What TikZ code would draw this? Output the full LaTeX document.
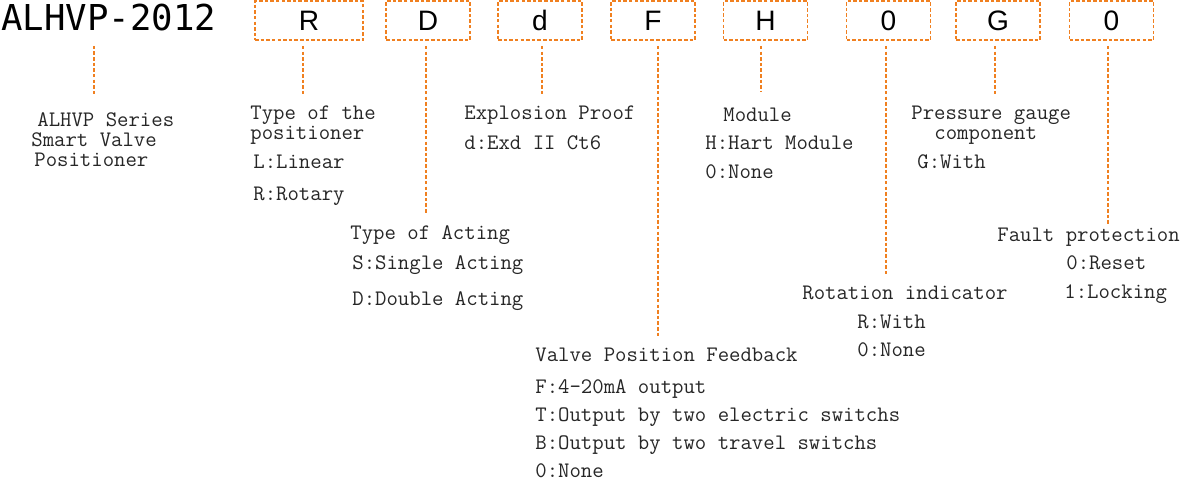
\documentclass[tikz,border=0pt]{standalone}
\usepackage{fontspec}
\usepackage{xcolor}
\usepackage{tikz}
\usetikzlibrary{calc,positioning}
\newfontfamily\labelfont{Latin Modern Mono}
\newfontfamily\codefont{DejaVu Sans Mono}
\newfontfamily\boxfont{Liberation Sans}
\definecolor{codeorange}{RGB}{240,128,32}

\begin{document}
\begin{tikzpicture}[x=0.02cm,y=-0.02cm]
    \tikzset{
        bx/.style={draw=codeorange, line width=1.1pt, dash pattern=on 2pt off 1.2pt, minimum width=1.68cm, minimum height=0.78cm, inner sep=0pt, font=\boxfont\fontsize{16}{16}\selectfont},
        stem/.style={codeorange, line width=1.1pt, dash pattern=on 2pt off 1.2pt},
        txt/.style={anchor=base west, inner sep=0pt, text=black!85, font=\labelfont\fontsize{12.6}{14}\selectfont},
    }
    \useasboundingbox (0,0) rectangle (1181,481);

    % model number and code boxes
    \node[anchor=base west, inner sep=0pt, font=\codefont\fontsize{20.3}{20.3}\selectfont] (model) at (1,30) {ALHVP-2012};
    \node[bx, minimum width=2.16cm] (bType) at (309,20.5) {R};
    \node[bx] (bAct) at (428,20.5) {D};
    \node[bx] (bExp) at (540,20.5) {d};
    \node[bx] (bFb) at (653,20.5) {F};
    \node[bx] (bMod) at (765.5,20.5) {H};
    \node[bx] (bRot) at (888.5,20.5) {0};
    \node[bx] (bGauge) at (998,20.5) {G};
    \node[bx] (bFault) at (1111.5,20.5) {0};

    % stem ends
    \coordinate (sModel) at (94,95);
    \coordinate (sType) at (303,95);
    \coordinate (sAct) at (426,213);
    \coordinate (sExp) at (542,95);
    \coordinate (sFb) at (658,338);
    \coordinate (sMod) at (761,92);
    \coordinate (sRot) at (886,275);
    \coordinate (sGauge) at (995,95);
    \coordinate (sFault) at (1108,225);

    \draw[stem] ($(model.south -| sModel)+(0,15)$) -- (sModel);
    \draw[stem] ($(bType.south -| sType)+(0,5)$) -- (sType);
    \draw[stem] ($(bAct.south -| sAct)+(0,5)$) -- (sAct);
    \draw[stem] ($(bExp.south -| sExp)+(0,5)$) -- (sExp);
    \draw[stem] ($(bFb.south -| sFb)+(0,5)$) -- (sFb);
    \draw[stem] ($(bMod.south -| sMod)+(0,5)$) -- (sMod);
    \draw[stem] ($(bRot.south -| sRot)+(0,5)$) -- (sRot);
    \draw[stem] ($(bGauge.south -| sGauge)+(0,5)$) -- (sGauge);
    \draw[stem] ($(bFault.south -| sFault)+(0,5)$) -- (sFault);

    % labels
    \node[txt] (series1) at (37,126) {ALHVP Series};
    \node[txt] (series2) at (31,146) {Smart Valve};
    \node[txt] (series3) at (34,166) {Positioner};

    \node[txt] (type1) at (250,119) {Type of the};
    \node[txt] (type2) at (250,139) {positioner};
    \node[txt] (typeL) at (253,168) {L:Linear};
    \node[txt] (typeR) at (253,200) {R:Rotary};

    \node[txt] (act1) at (350,239) {Type of Acting};
    \node[txt] (actS) at (352,269) {S:Single Acting};
    \node[txt] (actD) at (352,305) {D:Double Acting};

    \node[txt] (exp1) at (464,119) {Explosion Proof};
    \node[txt] (expD) at (464,149) {d:Exd II Ct6};

    \node[txt] (fb1) at (535,361) {Valve Position Feedback};
    \node[txt] (fbF) at (535,393) {F:4-20mA output};
    \node[txt] (fbT) at (535,421) {T:Output by two electric switchs};
    \node[txt] (fbB) at (535,449) {B:Output by two travel switchs};
    \node[txt] (fb0) at (535,477) {0:None};

    \node[txt] (mod1) at (723,121) {Module};
    \node[txt] (modH) at (705,149) {H:Hart Module};
    \node[txt] (mod0) at (705,178) {0:None};

    \node[txt] (rot1) at (802,299) {Rotation indicator};
    \node[txt] (rotR) at (857,328) {R:With};
    \node[txt] (rot0) at (857,356) {0:None};

    \node[txt] (gauge1) at (911,119) {Pressure gauge};
    \node[txt] (gauge2) at (934,139) {component};
    \node[txt] (gaugeG) at (917,168) {G:With};

    \node[txt] (fault1) at (997,241) {Fault protection};
    \node[txt] (fault0) at (1066,269) {0:Reset};
    \node[txt] (fault1L) at (1064,298) {1:Locking};
\end{tikzpicture}
\end{document}
